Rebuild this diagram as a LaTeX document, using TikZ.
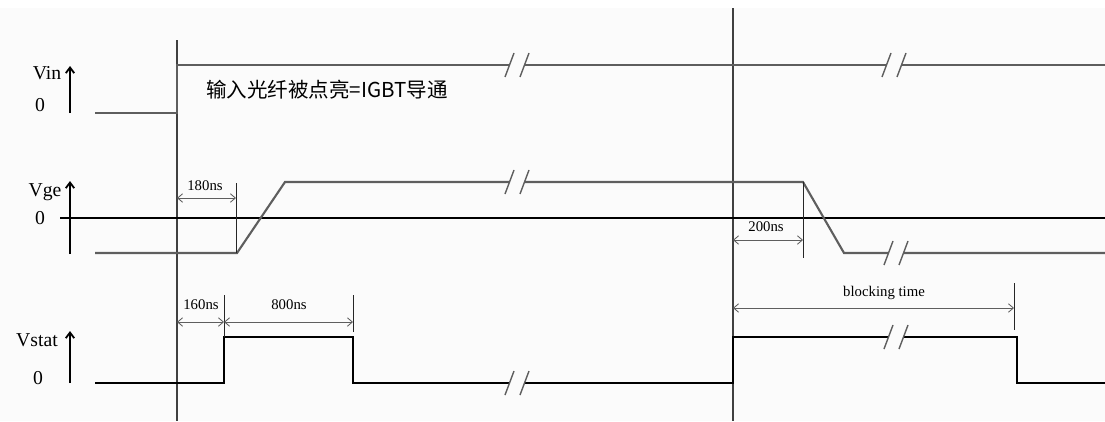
\documentclass[tikz,border=0pt]{standalone}
\usepackage{fontspec}
\setmainfont{Liberation Serif}
\newfontfamily\cjk{Noto Sans CJK SC}
\usetikzlibrary{arrows.meta}

\definecolor{wavegray}{HTML}{5E5E5E}
\definecolor{bggray}{HTML}{FBFBFB}

\tikzset{
  brk/.pic={
    \fill[bggray] (-8,-4) rectangle (8,4);
    \draw[wavegray, line width=1pt] (-12,12) -- (-3,-12);
    \draw[wavegray, line width=1pt] (3,12) -- (12,-12);
  }
}

\begin{document}
\begin{tikzpicture}[x=0.025cm, y=-0.025cm,
    lbl/.style={font=\fontsize{14}{16}\selectfont, inner sep=0pt},
    dimlbl/.style={font=\fontsize{10.5}{12}\selectfont, inner sep=0pt},
    axisarrow/.style={line width=1.3pt, -{Straight Barb[length=4pt,width=6pt]}},
    dimline/.style={wavegray, line width=0.6pt, {Straight Barb[length=3.5pt,width=6pt]}-{Straight Barb[length=3.5pt,width=6pt]}},
    tick/.style={black!85, line width=0.6pt},
    marker/.style={black!75, line width=0.8pt},
    soft/.style={wavegray, line width=1.5pt},
    hard/.style={black, line width=1.8pt}]
  \fill[white] (0,0) rectangle (1105,421);
  \fill[bggray] (0,8) rectangle (1105,421);
  \useasboundingbox (0,0) rectangle (1105,421);

  \draw[marker] (177,40) -- (177,421);
  \draw[marker] (733,8) -- (733,421);

  \node[lbl] (vin) at (47,73) {Vin};
  \node[lbl] (vin0) at (40,105) {0};
  \coordinate (vinA) at (70,113);
  \coordinate (vinB) at (70,66);
  \draw[axisarrow] (vinA) -- (vinB);
  \draw[soft] (95,113) -- (177,113) -- (177,65) -- (1105,65);
  \pic at (517,65) {brk};
  \pic at (894,65) {brk};
  \node[anchor=west, font=\cjk\fontsize{14.6}{16}\selectfont, inner sep=0pt] (note) at (206,90) {输入光纤被点亮=IGBT导通};

  \node[lbl] (vge) at (45,192) {Vge};
  \node[lbl] (vge0) at (40,218) {0};
  \coordinate (vgeA) at (70,254);
  \coordinate (vgeB) at (70,181);
  \draw[axisarrow] (vgeA) -- (vgeB);
  \draw[black, line width=0.8pt] (60,218) -- (1105,218);
  \draw[soft] (95,253) -- (237,253) -- (285,182) -- (803,182) -- (844,253) -- (1105,253);
  \pic at (517,182) {brk};
  \pic at (896,253) {brk};
  \coordinate (t180a) at (177,198);
  \coordinate (t180b) at (236,198);
  \draw[tick] (236,183) -- (236,253);
  \draw[dimline] (t180a) -- (t180b);
  \node[dimlbl] (l180) at (205,186) {180ns};
  \coordinate (t200a) at (733,240);
  \coordinate (t200b) at (803,240);
  \draw[tick] (803,182) -- (803,258);
  \draw[dimline] (t200a) -- (t200b);
  \node[dimlbl] (l200) at (766,227) {200ns};

  \node[lbl] (vst) at (37,340) {Vstat};
  \node[lbl] (vst0) at (38,378) {0};
  \coordinate (vstA) at (70,383);
  \coordinate (vstB) at (70,331);
  \draw[axisarrow] (vstA) -- (vstB);
  \draw[hard] (95,383) -- (224,383) -- (224,337) -- (353,337) -- (353,383) -- (733,383) -- (733,337) -- (1017,337) -- (1017,383) -- (1105,383);
  \pic at (517,383) {brk};
  \pic at (896,337) {brk};
  \coordinate (t160a) at (177,322);
  \coordinate (t160b) at (224,322);
  \coordinate (t800b) at (353,322);
  \draw[tick] (224,295) -- (224,337);
  \draw[tick] (353,295) -- (353,332);
  \draw[dimline] (t160a) -- (t160b);
  \draw[dimline] (t160b) -- (t800b);
  \node[dimlbl] (l160) at (201,305) {160ns};
  \node[dimlbl] (l800) at (289,305) {800ns};
  \coordinate (tblka) at (733,308);
  \coordinate (tblkb) at (1014,308);
  \draw[tick] (1014,283) -- (1014,330);
  \draw[dimline] (tblka) -- (tblkb);
  \node[dimlbl] (lblk) at (884,293) {blocking time};
\end{tikzpicture}
\end{document}
